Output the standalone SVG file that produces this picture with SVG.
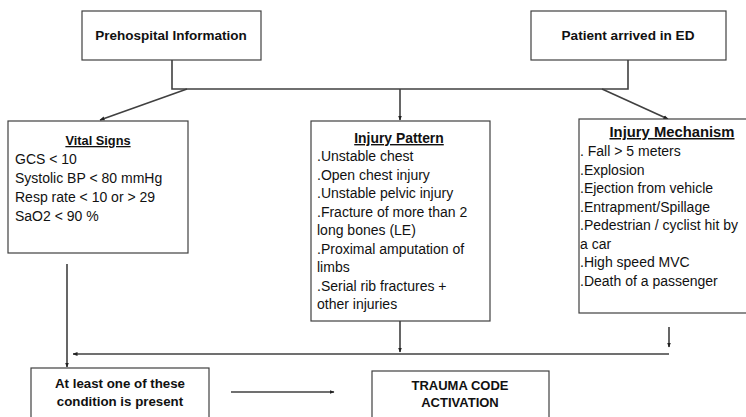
<svg xmlns="http://www.w3.org/2000/svg" width="746" height="417" viewBox="0 0 746 417">
<defs>
<marker id="ah" viewBox="0 0 10 10" refX="9" refY="5" markerWidth="5" markerHeight="5" orient="auto-start-reverse" markerUnits="userSpaceOnUse">
<path d="M0,1 L10,5 L0,9 z" fill="#222"/>
</marker>
<style>
.box{fill:#fff;stroke:#404040;stroke-width:1.2}
.ln{fill:none;stroke:#404040;stroke-width:1.6}
.t{font-family:"Liberation Sans",Arial,sans-serif;font-size:14px;fill:#111}
.b{font-weight:bold;font-size:13.3px}
.c{text-anchor:middle}
.u{text-decoration:underline}
</style>
</defs>
<rect width="746" height="417" fill="#fff"/>
<g id="connectors">
<path class="ln" d="M172,60 V89 H628 V60"/>
<line class="ln" x1="187" y1="89" x2="100" y2="120" marker-end="url(#ah)"/>
<line class="ln" x1="400" y1="89" x2="400" y2="120" marker-end="url(#ah)"/>
<line class="ln" x1="602" y1="89" x2="668" y2="119" marker-end="url(#ah)"/>
<line class="ln" x1="67" y1="264" x2="67" y2="367" marker-end="url(#ah)"/>
<line class="ln" x1="669" y1="354" x2="73" y2="354" marker-end="url(#ah)"/>
<line class="ln" x1="400" y1="321" x2="400" y2="352" marker-end="url(#ah)"/>
<line class="ln" x1="669" y1="327" x2="669" y2="347" marker-end="url(#ah)"/>
<line class="ln" x1="231" y1="392" x2="334" y2="392" marker-end="url(#ah)"/>
</g>
<g id="prehospital">
<rect class="box" x="82" y="11" width="179" height="49"/>
<text class="t b c" x="171" y="40" style="font-size:13.5px">Prehospital Information</text>
</g>
<g id="patient">
<rect class="box" x="531" y="11" width="195" height="49"/>
<text class="t b c" x="628" y="40" style="font-size:13.6px">Patient arrived in ED</text>
</g>
<g id="vital">
<rect class="box" x="8" y="121" width="180" height="132"/>
<text class="t b c u" x="98" y="145" style="font-size:12.8px">Vital Signs</text>
<text class="t" x="15" y="164">GCS &lt; 10</text>
<text class="t" x="15" y="183">Systolic BP &lt; 80 mmHg</text>
<text class="t" x="15" y="202">Resp rate &lt; 10 or &gt; 29</text>
<text class="t" x="15" y="221">SaO2 &lt; 90 %</text>
</g>
<g id="pattern">
<rect class="box" x="311" y="121" width="179" height="200"/>
<text class="t b c u" x="399" y="143" style="font-size:13.9px">Injury Pattern</text>
<text class="t" x="317" y="161">.Unstable chest</text>
<text class="t" x="317" y="179.5">.Open chest injury</text>
<text class="t" x="317" y="198">.Unstable pelvic injury</text>
<text class="t" x="317" y="216.5">.Fracture of more than 2</text>
<text class="t" x="317" y="235">long bones (LE)</text>
<text class="t" x="317" y="253.5">.Proximal amputation of</text>
<text class="t" x="317" y="272">limbs</text>
<text class="t" x="317" y="290.5">.Serial rib fractures +</text>
<text class="t" x="317" y="309">other injuries</text>
</g>
<g id="mechanism">
<rect class="box" x="579" y="119" width="180" height="194"/>
<text class="t b c u" x="672" y="137" style="font-size:14.8px">Injury Mechanism</text>
<text class="t" x="580" y="156">. Fall &gt; 5 meters</text>
<text class="t" x="580" y="174.5">.Explosion</text>
<text class="t" x="580" y="193">.Ejection from vehicle</text>
<text class="t" x="580" y="211.5">.Entrapment/Spillage</text>
<text class="t" x="580" y="230">.Pedestrian / cyclist hit by</text>
<text class="t" x="580" y="248.5">a car</text>
<text class="t" x="580" y="267">.High speed MVC</text>
<text class="t" x="580" y="285.5">.Death of a passenger</text>
</g>
<g id="condition">
<rect class="box" x="31" y="368" width="178" height="60"/>
<text class="t b c" x="120" y="388">At least one of these</text>
<text class="t b c" x="120" y="406">condition is present</text>
</g>
<g id="trauma">
<rect class="box" x="372" y="371" width="177" height="60"/>
<text class="t b c" x="460" y="390" style="font-size:13px">TRAUMA CODE</text>
<text class="t b c" x="460" y="407" style="font-size:13px">ACTIVATION</text>
</g>
</svg>
